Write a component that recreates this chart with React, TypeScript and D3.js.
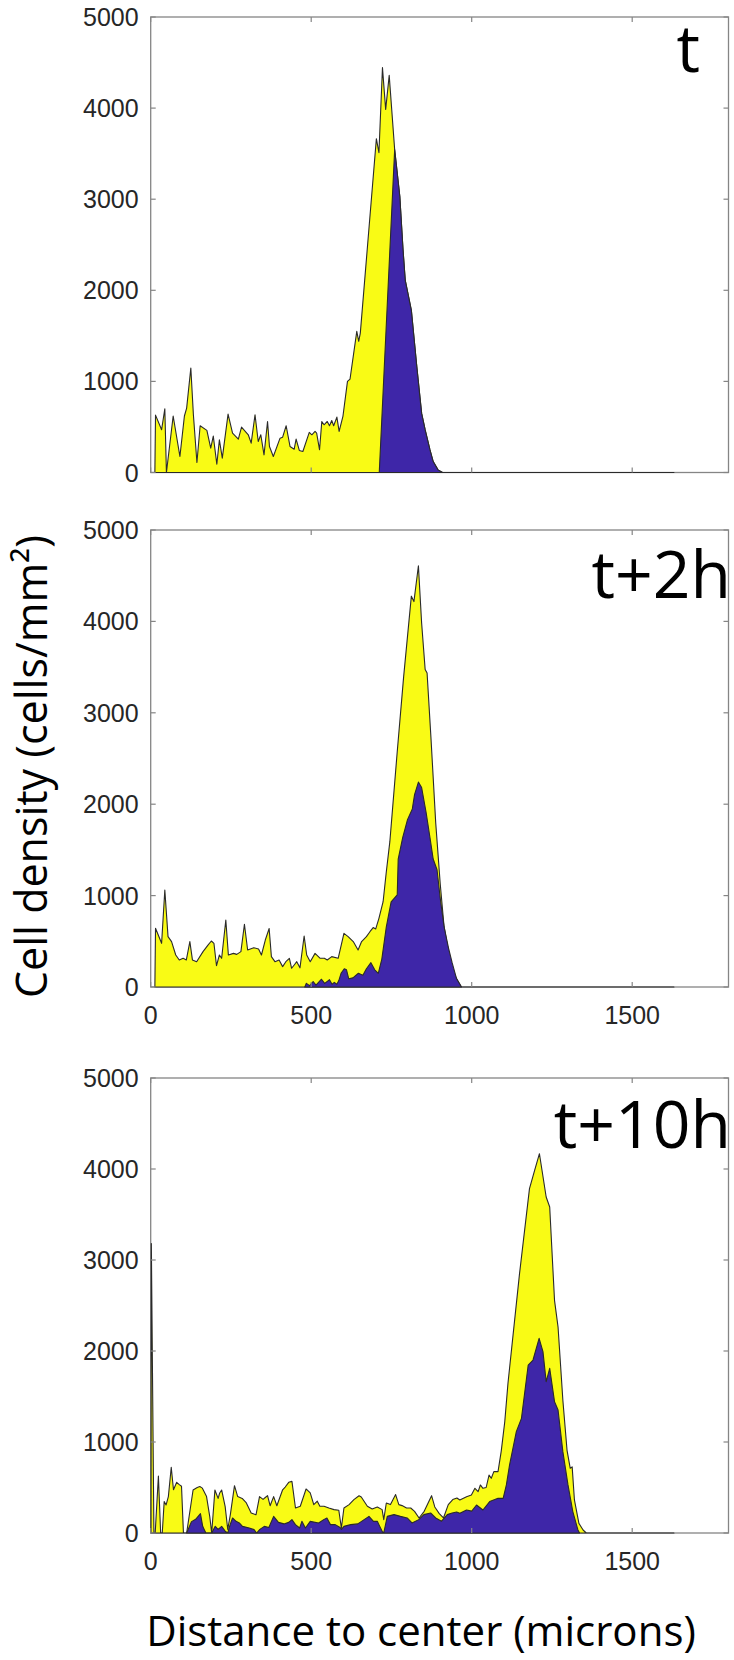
import React from 'react';
import * as d3 from 'd3';

type Pt = [number, number];

// Axis definitions
const X_DOMAIN: [number, number] = [0, 1800];
const Y_DOMAIN: [number, number] = [0, 5000];
const X_TICKS = [0, 500, 1000, 1500];
const Y_TICKS = [0, 1000, 2000, 3000, 4000, 5000];
const PANEL_LABELS = ['t', 't+2h', 't+10h'];
const X_TITLE = 'Distance to center (microns)';
const Y_TITLE = 'Cell density (cells/mm²)';

// Panel 1 (t): [distance (microns), density (cells/mm²)]
const p1Yellow: Pt[] = [
  [13, 0], [15, 630], [34, 470], [44, 700], [49, 0], [70, 620], [91, 176], [105, 620], [112, 707],
  [125, 1147], [133, 634], [144, 110], [154, 513], [175, 462], [187, 268], [195, 400], [206, 90],
  [214, 359], [223, 158], [241, 641], [255, 432], [273, 367], [283, 498], [304, 414], [313, 322],
  [325, 634], [335, 340], [343, 414], [353, 194], [364, 560], [370, 286], [382, 176], [403, 377],
  [411, 388], [422, 513], [434, 286], [447, 256], [453, 367], [463, 242], [474, 231], [494, 440],
  [502, 414], [512, 451], [517, 432], [526, 249], [533, 560], [540, 524], [550, 560], [557, 513],
  [564, 571], [570, 513], [580, 608], [587, 451], [599, 620], [613, 1000], [621, 1026], [642, 1549],
  [648, 1440], [653, 1530], [703, 3664], [711, 3510], [722, 4444], [732, 3986], [743, 4359],
  [760, 3546], [776, 3033], [786, 2447], [793, 2108], [812, 1780], [829, 1160], [844, 649],
  [855, 467], [870, 248], [880, 120], [895, 29], [909, 0], [1630, 0],
];
const p1Blue: Pt[] = [
  [712, 0], [760, 3546], [776, 3033], [786, 2447], [793, 2108], [812, 1780], [829, 1160], [844, 649],
  [855, 467], [870, 248], [880, 120], [895, 29], [909, 0],
];

// Panel 2 (t+2h)
const p2Yellow: Pt[] = [
  [13, 0], [15, 642], [34, 478], [44, 1061], [54, 551], [65, 497], [78, 350], [89, 296], [101, 314],
  [111, 296], [122, 497], [130, 296], [143, 277], [163, 387], [179, 460], [189, 503], [197, 478],
  [205, 233], [214, 350], [221, 314], [234, 733], [242, 350], [258, 368], [268, 357], [281, 387],
  [292, 686], [302, 405], [321, 430], [336, 416], [345, 350], [357, 514], [369, 640], [376, 332],
  [387, 277], [400, 296], [411, 223], [421, 277], [432, 314], [439, 205], [447, 241], [455, 277],
  [465, 210], [478, 558], [486, 350], [497, 277], [512, 368], [528, 314], [541, 314], [550, 296],
  [564, 332], [584, 314], [602, 587], [615, 551], [631, 497], [646, 405], [657, 497], [672, 551],
  [683, 605], [693, 650], [701, 635], [711, 751], [724, 933], [734, 1261], [745, 1590], [768, 2574],
  [788, 3396], [812, 4276], [820, 4217], [834, 4609], [844, 3983], [855, 3474], [861, 3435],
  [873, 2731], [888, 1792], [902, 1127], [914, 657], [924, 462], [939, 188], [953, 90], [968, 0],
  [1630, 0],
];
const p2Blue: Pt[] = [
  [480, 0], [485, 40], [495, 15], [506, 60], [515, 20], [532, 85], [542, 40], [557, 80], [565, 30],
  [572, 50], [580, 30], [586, 70], [593, 150], [603, 200], [610, 188], [617, 90], [630, 100],
  [647, 150], [661, 129], [672, 200], [686, 266], [698, 188], [709, 150], [720, 305], [734, 657],
  [749, 931], [768, 1009], [771, 1400], [785, 1635], [800, 1831], [815, 1948], [822, 2105],
  [834, 2242], [844, 2183], [858, 1909], [870, 1635], [880, 1400], [892, 1283], [902, 970],
  [914, 657], [928, 423], [939, 266], [953, 90], [968, 0],
];

// Panel 3 (t+10h)
const p3Yellow: Pt[] = [
  [1, 0], [2, 3180], [10, 0], [14, 0], [24, 627], [31, 0], [36, 0], [42, 345], [48, 308], [55, 400],
  [64, 722], [71, 476], [81, 557], [89, 531], [96, 513], [102, 0], [112, 0], [132, 473], [145, 500],
  [153, 510], [161, 493], [174, 400], [184, 180], [190, 0], [200, 473], [210, 380], [215, 440],
  [221, 473], [232, 290], [240, 40], [248, 200], [261, 520], [271, 400], [285, 380], [298, 330],
  [313, 220], [328, 200], [339, 400], [350, 370], [357, 390], [364, 410], [372, 300], [383, 400],
  [393, 300], [411, 475], [419, 505], [430, 557], [440, 567], [451, 275], [466, 294], [484, 484],
  [497, 440], [508, 312], [519, 350], [527, 294], [540, 294], [555, 275], [571, 257], [586, 250],
  [594, 55], [602, 275], [618, 312], [633, 367], [649, 410], [656, 396], [675, 294], [690, 263],
  [706, 286], [721, 257], [726, 147], [734, 330], [747, 312], [763, 422], [773, 312], [783, 301],
  [797, 275], [810, 275], [822, 238], [836, 165], [852, 238], [875, 410], [885, 286], [899, 213],
  [912, 165], [927, 312], [941, 367], [954, 385], [963, 363], [984, 399], [999, 418], [1010, 491],
  [1020, 454], [1027, 528], [1035, 491], [1045, 500], [1054, 637], [1061, 601], [1069, 674],
  [1082, 674], [1092, 900], [1103, 1223], [1113, 1645], [1149, 2850], [1180, 3784], [1196, 3985],
  [1211, 4168], [1232, 3692], [1243, 3582], [1258, 2557], [1269, 2264], [1284, 1458], [1297, 909],
  [1307, 711], [1313, 727], [1320, 363], [1334, 106], [1347, 33], [1357, 0], [1630, 0],
];
const p3Blue: Pt[] = [
  [112, 0], [127, 125], [140, 150], [155, 213], [162, 73], [167, 37], [172, 0], [190, 0], [201, 73],
  [210, 40], [221, 73], [232, 20], [240, 0], [245, 66], [255, 165], [266, 128], [276, 110],
  [286, 73], [307, 55], [322, 37], [330, 0], [340, 40], [354, 73], [368, 60], [383, 183], [398, 117],
  [415, 100], [430, 117], [440, 147], [451, 92], [464, 55], [471, 128], [482, 55], [497, 128],
  [523, 110], [539, 147], [549, 165], [560, 92], [575, 92], [590, 60], [594, 40], [602, 73],
  [623, 92], [645, 100], [665, 147], [680, 183], [694, 128], [706, 128], [721, 18], [726, 0],
  [737, 183], [758, 202], [778, 183], [799, 165], [814, 110], [835, 147], [851, 202], [872, 220],
  [888, 165], [906, 130], [924, 202], [939, 220], [953, 230], [963, 216], [984, 253], [1000, 240],
  [1015, 308], [1035, 253], [1056, 345], [1082, 381], [1098, 381], [1108, 528], [1118, 748],
  [1139, 1114], [1155, 1260], [1176, 1846], [1191, 1901], [1210, 2139], [1222, 1993], [1232, 1663],
  [1243, 1810], [1258, 1444], [1269, 1352], [1284, 894], [1300, 528], [1315, 235], [1331, 33],
  [1336, 0],
];

const YELLOW = '#f9fb15';
const BLUE = '#3e26a8';
const AXIS = '#858585';
const EDGE = '#2a2a2a';
const TICK_TEXT = '#262626';

const PLOT_LEFT = 150.7;
const PLOT_RIGHT = 728.5;

const PANELS = [
  { top: 17, bottom: 472.5, yellow: p1Yellow, blue: p1Blue, showX: false, labelX: 700, labelY: 72 },
  { top: 530, bottom: 987, yellow: p2Yellow, blue: p2Blue, showX: true, labelX: 731, labelY: 598 },
  { top: 1078, bottom: 1533, yellow: p3Yellow, blue: p3Blue, showX: true, labelX: 731, labelY: 1148 },
];

export default function App() {
  const x = d3.scaleLinear().domain(X_DOMAIN).range([PLOT_LEFT, PLOT_RIGHT]);
  const tickLen = 5;
  const tickFont = '"Liberation Sans", Arial, sans-serif';
  const titleFont = '"Open Sans", sans-serif';

  return (
    <svg
      width={734}
      height={1660}
      style={{ position: 'absolute', left: 0, top: 0, background: '#fff' }}
      xmlns="http://www.w3.org/2000/svg"
    >
      <rect x={0} y={0} width={734} height={1660} fill="#fff" />
      {PANELS.map((p, i) => {
        const y = d3.scaleLinear().domain(Y_DOMAIN).range([p.bottom, p.top]);
        const area = d3
          .area<Pt>()
          .x((d) => x(d[0]))
          .y0(y(0))
          .y1((d) => y(d[1]));
        return (
          <g key={i}>
            <rect
              x={PLOT_LEFT}
              y={p.top}
              width={PLOT_RIGHT - PLOT_LEFT}
              height={p.bottom - p.top}
              fill="none"
              stroke={AXIS}
              strokeWidth={1.3}
            />
            <path d={area(p.yellow) || ''} fill={YELLOW} stroke={EDGE} strokeWidth={1.1} strokeLinejoin="round" />
            <path d={area(p.blue) || ''} fill={BLUE} stroke={EDGE} strokeWidth={1.1} strokeLinejoin="round" />
            {X_TICKS.map((t) => (
              <g key={'xt' + t}>
                <line x1={x(t)} x2={x(t)} y1={p.bottom} y2={p.bottom - tickLen} stroke={AXIS} strokeWidth={1.2} />
                <line x1={x(t)} x2={x(t)} y1={p.top} y2={p.top + tickLen} stroke={AXIS} strokeWidth={1.2} />
              </g>
            ))}
            {Y_TICKS.map((t) => (
              <g key={'yt' + t}>
                <line x1={PLOT_LEFT} x2={PLOT_LEFT + tickLen} y1={y(t)} y2={y(t)} stroke={AXIS} strokeWidth={1.2} />
                <line x1={PLOT_RIGHT} x2={PLOT_RIGHT - tickLen} y1={y(t)} y2={y(t)} stroke={AXIS} strokeWidth={1.2} />
                <text
                  x={PLOT_LEFT - 12}
                  y={y(t)}
                  dy="0.36em"
                  textAnchor="end"
                  fontFamily={tickFont}
                  fontSize={25}
                  fill={TICK_TEXT}
                >
                  {t}
                </text>
              </g>
            ))}
            {p.showX &&
              X_TICKS.map((t) => (
                <text
                  key={'xl' + t}
                  x={x(t)}
                  y={p.bottom + 37}
                  textAnchor="middle"
                  fontFamily={tickFont}
                  fontSize={25}
                  fill={TICK_TEXT}
                >
                  {t}
                </text>
              ))}
            <text
              x={p.labelX}
              y={p.labelY}
              textAnchor="end"
              fontFamily={titleFont}
              fontSize={66}
              fill="#000"
            >
              {PANEL_LABELS[i]}
            </text>
          </g>
        );
      })}
      <text
        x={421}
        y={1646}
        textAnchor="middle"
        fontFamily={titleFont}
        fontSize={42}
        fill="#000"
      >
        {X_TITLE}
      </text>
      <text
        transform="translate(47,766.5) rotate(-90)"
        textAnchor="middle"
        fontFamily={titleFont}
        fontSize={43}
        fill="#000"
      >
        {Y_TITLE}
      </text>
    </svg>
  );
}
